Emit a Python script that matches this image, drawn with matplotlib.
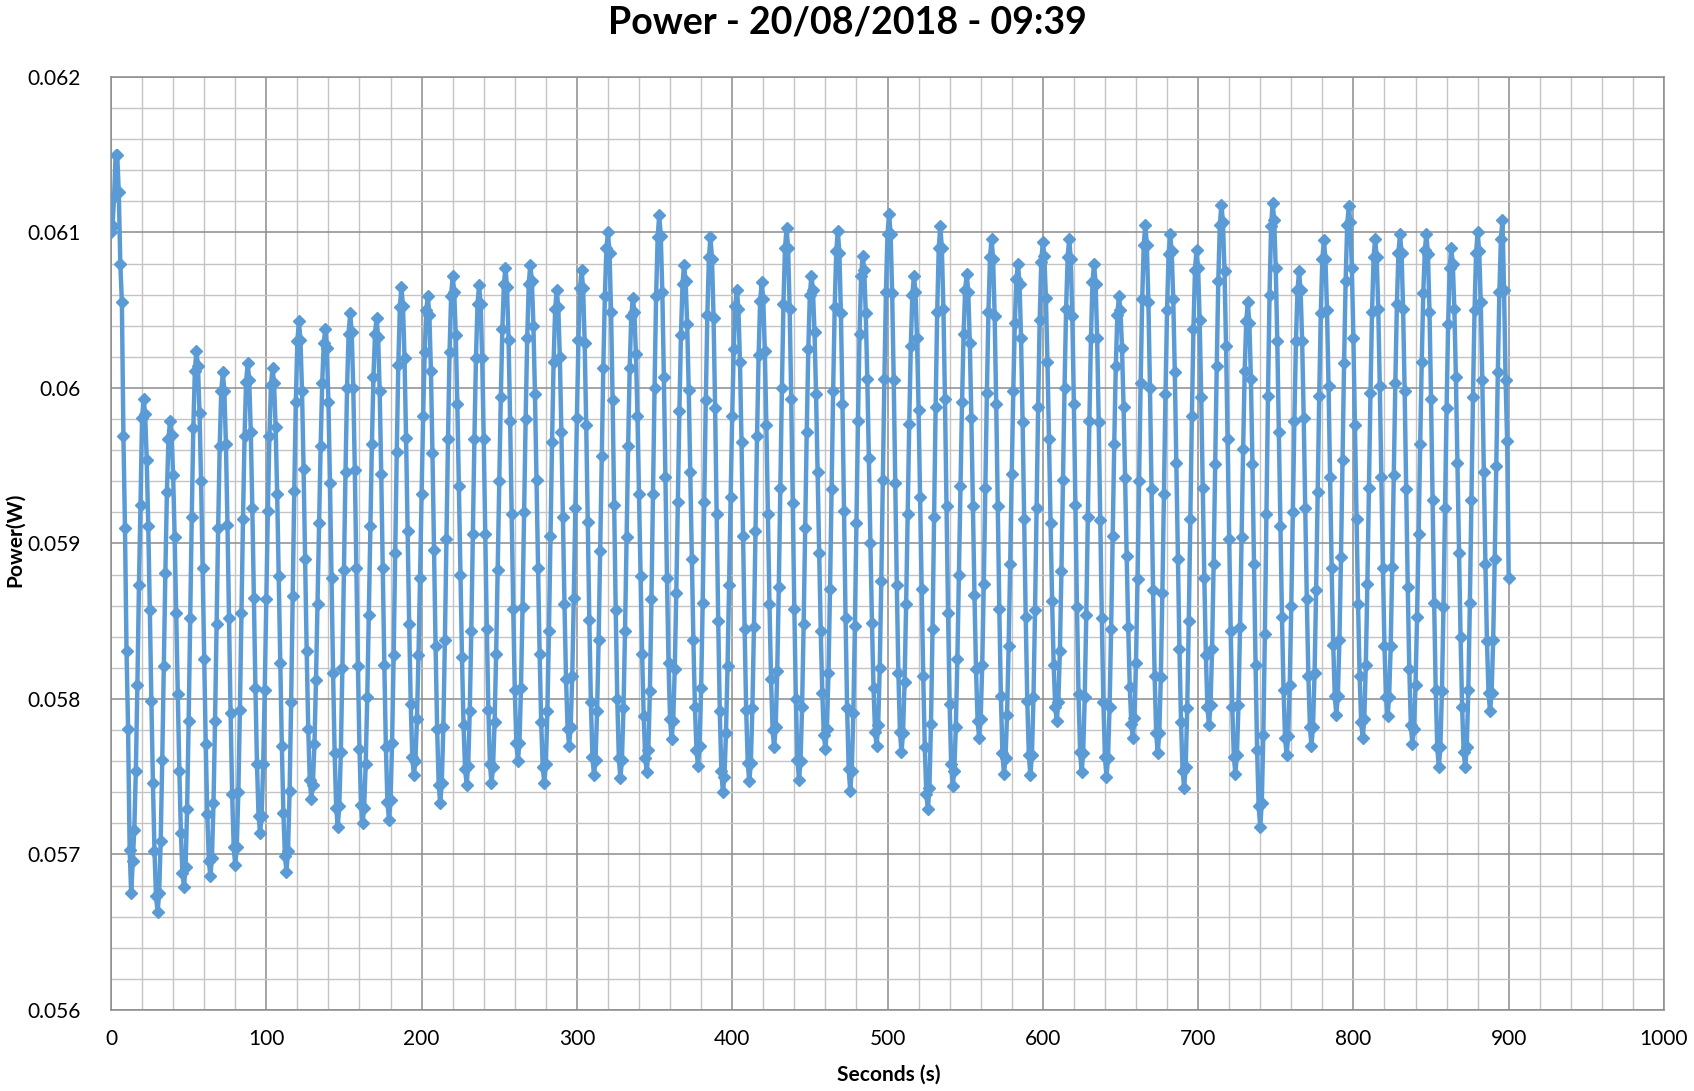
import matplotlib

matplotlib.use("Agg")

import matplotlib.pyplot as plt
from matplotlib.ticker import MultipleLocator, FuncFormatter
import numpy as np

plt.rcParams['font.family'] = ['Lato', 'DejaVu Sans']

# power readings in mW, one sample per second (one cycle per line)
power_mw = [
    61.00, 61.04, 61.23, 61.50, 61.50,
    61.26, 60.80, 60.55, 59.69, 59.10, 58.31, 57.81, 57.03, 56.75,
    56.96, 57.16, 57.54, 58.09, 58.73, 59.25, 59.81, 59.93,
    59.83, 59.54, 59.11, 58.57, 57.99, 57.46, 57.02, 56.73, 56.63,
    56.75, 57.09, 57.61, 58.21, 58.81, 59.33, 59.67, 59.79,
    59.70, 59.44, 59.04, 58.55, 58.03, 57.54, 57.14, 56.88, 56.79,
    56.92, 57.29, 57.86, 58.52, 59.17, 59.74, 60.11, 60.24,
    60.14, 59.84, 59.40, 58.84, 58.26, 57.71, 57.26, 56.96, 56.86,
    56.98, 57.33, 57.86, 58.48, 59.10, 59.63, 59.98, 60.10,
    59.98, 59.64, 59.12, 58.52, 57.91, 57.39, 57.05, 56.93,
    57.05, 57.40, 57.93, 58.55, 59.16, 59.69, 60.04, 60.16,
    60.05, 59.72, 59.23, 58.65, 58.07, 57.58, 57.25, 57.14,
    57.25, 57.58, 58.06, 58.64, 59.21, 59.69, 60.02, 60.13,
    60.03, 59.75, 59.32, 58.79, 58.23, 57.70, 57.27, 56.99, 56.89,
    57.02, 57.41, 57.98, 58.66, 59.34, 59.91, 60.30, 60.43,
    60.31, 59.98, 59.48, 58.90, 58.31, 57.81, 57.48, 57.36,
    57.45, 57.71, 58.12, 58.61, 59.13, 59.63, 60.03, 60.29, 60.38,
    60.26, 59.91, 59.39, 58.78, 58.17, 57.65, 57.30, 57.18,
    57.31, 57.66, 58.20, 58.83, 59.46, 60.00, 60.35, 60.48,
    60.36, 60.00, 59.47, 58.84, 58.21, 57.68, 57.32, 57.20,
    57.30, 57.58, 58.01, 58.54, 59.11, 59.64, 60.07, 60.35, 60.45,
    60.33, 59.98, 59.45, 58.84, 58.22, 57.69, 57.34, 57.22,
    57.35, 57.72, 58.28, 58.94, 59.59, 60.15, 60.52, 60.65,
    60.53, 60.19, 59.68, 59.08, 58.48, 57.97, 57.63, 57.51,
    57.60, 57.87, 58.28, 58.78, 59.32, 59.82, 60.23, 60.50, 60.59,
    60.47, 60.11, 59.58, 58.96, 58.34, 57.81, 57.45, 57.33,
    57.46, 57.82, 58.38, 59.03, 59.67, 60.23, 60.59, 60.72,
    60.62, 60.34, 59.90, 59.37, 58.80, 58.27, 57.83, 57.55, 57.45,
    57.57, 57.92, 58.44, 59.06, 59.67, 60.19, 60.54, 60.66,
    60.54, 60.19, 59.67, 59.06, 58.45, 57.93, 57.58, 57.46,
    57.56, 57.85, 58.29, 58.83, 59.40, 59.94, 60.38, 60.67, 60.77,
    60.65, 60.31, 59.79, 59.19, 58.58, 58.06, 57.72, 57.60,
    57.72, 58.07, 58.59, 59.20, 59.80, 60.32, 60.67, 60.79,
    60.69, 60.40, 59.96, 59.41, 58.84, 58.29, 57.85, 57.56, 57.46,
    57.58, 57.92, 58.44, 59.05, 59.65, 60.17, 60.51, 60.63,
    60.52, 60.20, 59.72, 59.17, 58.61, 58.13, 57.81, 57.70,
    57.82, 58.15, 58.65, 59.23, 59.81, 60.31, 60.64, 60.76,
    60.64, 60.29, 59.76, 59.14, 58.51, 57.98, 57.63, 57.51,
    57.61, 57.92, 58.38, 58.95, 59.56, 60.13, 60.59, 60.90, 61.00,
    60.87, 60.49, 59.92, 59.25, 58.57, 58.00, 57.62, 57.49,
    57.61, 57.94, 58.44, 59.04, 59.63, 60.13, 60.46, 60.58,
    60.49, 60.22, 59.82, 59.32, 58.79, 58.29, 57.89, 57.62, 57.53,
    57.67, 58.05, 58.64, 59.32, 60.00, 60.59, 60.97, 61.11,
    60.98, 60.62, 60.07, 59.43, 58.78, 58.23, 57.87, 57.74,
    57.86, 58.19, 58.68, 59.27, 59.85, 60.34, 60.67, 60.79,
    60.69, 60.41, 59.99, 59.46, 58.90, 58.38, 57.95, 57.67, 57.57,
    57.70, 58.07, 58.62, 59.27, 59.92, 60.47, 60.84, 60.97,
    60.83, 60.45, 59.87, 59.19, 58.50, 57.92, 57.54, 57.40,
    57.50, 57.78, 58.21, 58.73, 59.30, 59.82, 60.25, 60.53, 60.63,
    60.51, 60.17, 59.65, 59.05, 58.45, 57.93, 57.59, 57.47,
    57.59, 57.94, 58.46, 59.08, 59.69, 60.21, 60.56, 60.68,
    60.57, 60.24, 59.76, 59.19, 58.61, 58.13, 57.80, 57.69,
    57.82, 58.18, 58.72, 59.36, 60.00, 60.54, 60.90, 61.03,
    60.90, 60.51, 59.93, 59.26, 58.58, 58.00, 57.61, 57.48,
    57.60, 57.95, 58.48, 59.10, 59.72, 60.25, 60.60, 60.72,
    60.63, 60.36, 59.96, 59.46, 58.94, 58.44, 58.04, 57.77, 57.68,
    57.81, 58.17, 58.71, 59.35, 59.98, 60.52, 60.88, 61.01,
    60.87, 60.48, 59.90, 59.21, 58.52, 57.94, 57.55, 57.41,
    57.54, 57.91, 58.47, 59.13, 59.79, 60.35, 60.72, 60.85,
    60.76, 60.48, 60.06, 59.55, 59.00, 58.49, 58.07, 57.79, 57.70,
    57.83, 58.20, 58.76, 59.41, 60.06, 60.62, 60.99, 61.12,
    60.99, 60.61, 60.05, 59.39, 58.73, 58.17, 57.79, 57.66,
    57.78, 58.11, 58.61, 59.19, 59.77, 60.27, 60.60, 60.72,
    60.62, 60.32, 59.86, 59.30, 58.71, 58.15, 57.69, 57.39, 57.29,
    57.43, 57.84, 58.45, 59.17, 59.88, 60.49, 60.90, 61.04,
    60.90, 60.51, 59.93, 59.24, 58.55, 57.97, 57.58, 57.44,
    57.54, 57.82, 58.26, 58.80, 59.37, 59.91, 60.35, 60.63, 60.73,
    60.62, 60.29, 59.81, 59.24, 58.67, 58.19, 57.86, 57.75,
    57.87, 58.22, 58.74, 59.36, 59.97, 60.49, 60.84, 60.96,
    60.83, 60.46, 59.90, 59.24, 58.58, 58.02, 57.65, 57.52,
    57.62, 57.90, 58.34, 58.87, 59.45, 59.98, 60.42, 60.70, 60.80,
    60.67, 60.32, 59.78, 59.16, 58.53, 57.99, 57.64, 57.51,
    57.64, 58.01, 58.57, 59.23, 59.88, 60.44, 60.81, 60.94,
    60.85, 60.58, 60.17, 59.67, 59.13, 58.63, 58.22, 57.95, 57.86,
    57.98, 58.31, 58.82, 59.41, 60.00, 60.51, 60.84, 60.96,
    60.83, 60.46, 59.90, 59.25, 58.59, 58.03, 57.66, 57.53,
    57.65, 58.01, 58.54, 59.17, 59.79, 60.32, 60.68, 60.80,
    60.67, 60.32, 59.78, 59.15, 58.52, 57.98, 57.63, 57.50,
    57.62, 57.95, 58.45, 59.05, 59.64, 60.14, 60.47, 60.59,
    60.50, 60.26, 59.88, 59.42, 58.92, 58.46, 58.08, 57.84, 57.75,
    57.88, 58.23, 58.77, 59.40, 60.03, 60.57, 60.92, 61.05,
    60.92, 60.55, 60.00, 59.35, 58.70, 58.15, 57.78, 57.65,
    57.78, 58.14, 58.68, 59.32, 59.96, 60.50, 60.86, 60.99,
    60.88, 60.57, 60.10, 59.52, 58.90, 58.32, 57.85, 57.54, 57.43,
    57.56, 57.94, 58.50, 59.16, 59.82, 60.38, 60.76, 60.89,
    60.77, 60.44, 59.94, 59.36, 58.78, 58.28, 57.95, 57.83,
    57.96, 58.32, 58.87, 59.51, 60.14, 60.69, 61.05, 61.18,
    61.07, 60.75, 60.27, 59.67, 59.03, 58.44, 57.95, 57.63, 57.52,
    57.64, 57.96, 58.46, 59.04, 59.61, 60.11, 60.43, 60.55,
    60.42, 60.06, 59.51, 58.87, 58.22, 57.67, 57.31, 57.18,
    57.33, 57.77, 58.42, 59.19, 59.95, 60.60, 61.04, 61.19,
    61.08, 60.77, 60.30, 59.72, 59.11, 58.53, 58.06, 57.75, 57.64,
    57.76, 58.09, 58.60, 59.20, 59.79, 60.30, 60.63, 60.75,
    60.63, 60.30, 59.81, 59.23, 58.64, 58.15, 57.82, 57.70,
    57.82, 58.17, 58.70, 59.33, 59.95, 60.48, 60.83, 60.95,
    60.83, 60.50, 60.01, 59.43, 58.84, 58.35, 58.02, 57.90,
    58.02, 58.38, 58.91, 59.54, 60.16, 60.69, 61.05, 61.17,
    61.07, 60.77, 60.32, 59.76, 59.16, 58.61, 58.15, 57.85, 57.75,
    57.87, 58.22, 58.74, 59.36, 59.97, 60.49, 60.84, 60.96,
    60.84, 60.51, 60.01, 59.43, 58.84, 58.34, 58.01, 57.89,
    58.01, 58.34, 58.85, 59.44, 60.03, 60.54, 60.87, 60.99,
    60.87, 60.51, 59.98, 59.35, 58.72, 58.19, 57.83, 57.71,
    57.81, 58.09, 58.53, 59.06, 59.64, 60.17, 60.61, 60.89, 60.99,
    60.86, 60.49, 59.93, 59.28, 58.62, 58.06, 57.69, 57.56,
    57.69, 58.05, 58.59, 59.23, 59.87, 60.41, 60.77, 60.90,
    60.80, 60.51, 60.07, 59.52, 58.94, 58.40, 57.95, 57.66, 57.56,
    57.69, 58.06, 58.62, 59.28, 59.94, 60.50, 60.87, 61.00,
    60.88, 60.55, 60.05, 59.46, 58.87, 58.37, 58.04, 57.92,
    58.04, 58.38, 58.90, 59.50, 60.10, 60.62, 60.96, 61.08,
    60.63, 60.05, 59.66, 58.78,
]

seconds = np.arange(len(power_mw))
power_w = np.array(power_mw) / 1000.0

blue = '#5B9BD5'
major_grid = '#8c8c8c'
minor_grid = '#c4c4c4'

fig = plt.figure(figsize=(16.94, 10.91), dpi=100)
ax = fig.add_axes([111 / 1694, 1 - 1010 / 1091, 1553 / 1694, 933 / 1091])

ax.plot(seconds, power_w, color=blue, lw=3.2, marker='D', ms=6.5,
        mfc=blue, mec=blue, mew=1.0, zorder=3)

ax.set_xlim(0, 1000)
ax.set_ylim(0.056, 0.062)
ax.xaxis.set_major_locator(MultipleLocator(100))
ax.xaxis.set_minor_locator(MultipleLocator(20))
ax.yaxis.set_major_locator(MultipleLocator(0.001))
ax.yaxis.set_minor_locator(MultipleLocator(0.0002))
ax.yaxis.set_major_formatter(FuncFormatter(lambda v, p: '%g' % round(v, 4)))

ax.grid(which='major', color=major_grid, lw=1.1)
ax.grid(which='minor', color=minor_grid, lw=1.0)
ax.set_axisbelow(True)
for s in ax.spines.values():
    s.set_color(major_grid)
    s.set_linewidth(1.1)

ax.tick_params(which='both', length=0, labelsize=15, colors='black')
ax.tick_params(axis='x', pad=14)
ax.tick_params(axis='y', pad=22)

fig.text(0.5, 1 - 22 / 1091, 'Power - 20/08/2018 - 09:39', ha='center', va='center',
         fontsize=27, fontweight='bold')
fig.text(889 / 1694, 1 - 1075 / 1091, 'Seconds (s)', ha='center', va='center',
         fontsize=15, fontweight='bold')
fig.text(15 / 1694, 1 - 540 / 1091, 'Power(W)', ha='center', va='center',
         rotation=90, fontsize=15, fontweight='bold')

fig.savefig('out.png', dpi=100)
